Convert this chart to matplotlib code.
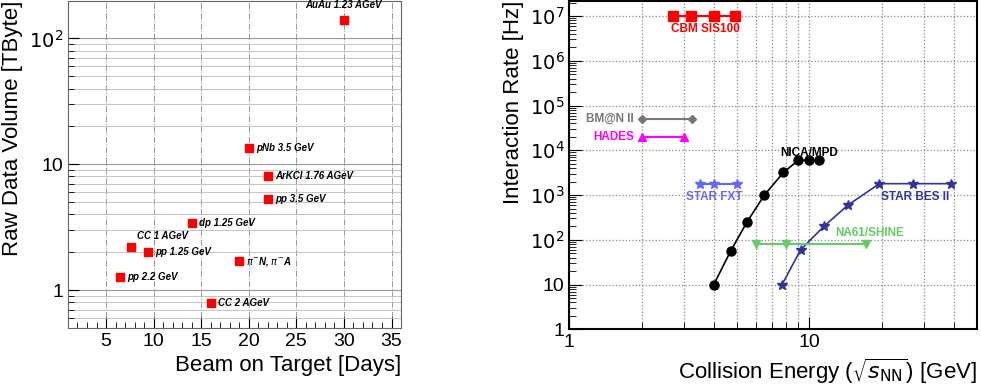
import numpy as np
import matplotlib.pyplot as plt
from matplotlib.ticker import LogLocator, FixedLocator, NullFormatter, MultipleLocator

plt.rcParams['font.family'] = ['Liberation Sans', 'DejaVu Sans']

# left panel: raw data volume vs beam time
runs = ['AuAu 1.23 AGeV', 'pNb 3.5 GeV', 'ArKCl 1.76 AGeV', 'pp 3.5 GeV', 'dp 1.25 GeV',
        'CC 1 AGeV', 'pp 1.25 GeV', '$\\pi^{-}$N, $\\pi^{-}$A', 'pp 2.2 GeV', 'CC 2 AGeV']
days = [30, 20, 22, 22, 14, 7.6, 9.4, 19, 6.5, 16]
volume = [140, 13.4, 8.0, 5.3, 3.4, 2.2, 2.0, 1.7, 1.28, 0.79]

# right panel: interaction rate vs collision energy
cbm_e = [2.7, 3.2, 4.0, 4.9]
cbm_r = [1e7, 1e7, 1e7, 1e7]
bmn_e = [2.0, 3.25]
bmn_r = [5e4, 5e4]
hades_e = [2.0, 3.0]
hades_r = [2e4, 2e4]
fxt_e = [3.5, 4.0, 5.0]
fxt_r = [1.8e3, 1.8e3, 1.8e3]
nica_e = [4.0, 4.7, 5.5, 6.5, 7.8, 9.0, 10.0, 11.0]
nica_r = [10, 56, 250, 1000, 3200, 6000, 6000, 6000]
bes_e = [7.7, 9.2, 11.5, 14.5, 19.6, 27, 39]
bes_r = [10, 60, 200, 600, 1800, 1800, 1800]
na61_e = [6.0, 8.0, 17.3]
na61_r = [80, 80, 80]

fig = plt.figure(figsize=(9.81, 3.87), dpi=100)

# ---- left ----
ax1 = fig.add_axes([0.0693, 0.1525, 0.3395, 0.846])
ax1.set_yscale('log')
ax1.set_xlim(1, 36)
ax1.set_ylim(0.5, 200)
ax1.scatter(days, volume, marker='s', s=30, color='red', zorder=3)
for name, d, v in zip(runs, days, volume):
    if name.startswith('CC 1'):
        ax1.text(d + 0.7, v * 1.12, name, fontsize=7, fontweight='bold', style='italic', va='bottom')
    elif name.startswith('AuAu'):
        ax1.text(d, v * 1.2, name, fontsize=7, fontweight='bold', style='italic', va='bottom', ha='center')
    else:
        ax1.text(d + 0.75, v, name, fontsize=7, fontweight='bold', style='italic', va='center')
ax1.xaxis.set_major_locator(FixedLocator([5, 10, 15, 20, 25, 30, 35]))
ax1.xaxis.set_minor_locator(MultipleLocator(1))
ax1.yaxis.set_major_locator(FixedLocator([1, 10, 100]))
ax1.set_yticklabels(['1', '10', '$10^2$'])
ax1.yaxis.set_minor_locator(LogLocator(base=10, subs=np.arange(2, 10)))
ax1.yaxis.set_minor_formatter(NullFormatter())
ax1.grid(True, which='major', axis='x', color='#999999', linestyle='-.', linewidth=0.7)
ax1.grid(True, which='major', axis='y', color='#999999', linestyle='-', linewidth=0.8)
ax1.grid(True, which='minor', axis='y', color='#bbbbbb', linestyle='-', linewidth=0.6)
ax1.tick_params(which='both', direction='in', labelsize=14, top=False, right=False)
ax1.tick_params(which='major', length=8)
ax1.tick_params(which='minor', length=4)
ax1.set_xlabel('Beam on Target [Days]', fontsize=16, loc='right')
ax1.set_ylabel('Raw Data Volume [TByte]', fontsize=16, loc='top')
for s in ax1.spines.values():
    s.set_color('#666666')

# ---- right ----
ax2 = fig.add_axes([0.5803, 0.149, 0.4157, 0.849])
ax2.set_xscale('log')
ax2.set_yscale('log')
ax2.set_xlim(1, 50)
ax2.set_ylim(1, 2.2e7)

ax2.plot(cbm_e, cbm_r, '-s', color='red', ms=6.5, lw=1.5)
ax2.plot(bmn_e, bmn_r, '-D', color='#777777', ms=4, lw=1.5)
ax2.plot(hades_e, hades_r, '-^', color='magenta', ms=6, lw=1.5)
ax2.plot(fxt_e, fxt_r, '-*', color='#6666ff', ms=7.5, lw=1.5)
ax2.plot(nica_e, nica_r, '-o', color='black', ms=6.5, lw=1.2)
ax2.plot(bes_e, bes_r, '-*', color='#333399', ms=7.5, lw=1.2)
ax2.plot(na61_e, na61_r, '-v', color='#66cc66', ms=6, lw=1.5)

lab = dict(fontsize=8.5, fontweight='bold')
ax2.text(3.7, 5.2e6, 'CBM SIS100', color='red', ha='center', va='center', **lab)
ax2.text(1.86, 5e4, 'BM@N II', color='#777777', ha='right', va='center', **lab)
ax2.text(1.86, 2e4, 'HADES', color='magenta', ha='right', va='center', **lab)
ax2.text(4.0, 9.0e2, 'STAR FXT', color='#6666ff', ha='center', va='center', **lab)
ax2.text(10.0, 8.8e3, 'NICA/MPD', color='black', ha='center', va='center', **lab)
ax2.text(27.5, 9.0e2, 'STAR BES II', color='#333399', ha='center', va='center', **lab)
ax2.text(17.8, 140, 'NA61/SHINE', color='#66cc66', ha='center', va='center', **lab)

ax2.yaxis.set_minor_locator(LogLocator(base=10, subs=np.arange(2, 10), numticks=10))
ax2.yaxis.set_minor_formatter(NullFormatter())
ax2.xaxis.set_major_locator(FixedLocator([1, 10]))
ax2.set_xticklabels(['1', '10'])
ax2.xaxis.set_minor_locator(LogLocator(base=10, subs=np.arange(2, 10), numticks=10))
ax2.xaxis.set_minor_formatter(NullFormatter())
ax2.set_yticks([1, 10, 1e2, 1e3, 1e4, 1e5, 1e6, 1e7])
ax2.set_yticklabels(['1', '10', '$10^2$', '$10^3$', '$10^4$', '$10^5$', '$10^6$', '$10^7$'])
ax2.grid(True, which='major', axis='y', color='#888888', linestyle=':', linewidth=0.9)
ax2.grid(True, which='both', axis='x', color='#888888', linestyle=':', linewidth=0.9)
ax2.tick_params(which='both', direction='in', labelsize=14, top=False, right=False)
ax2.tick_params(which='major', length=9)
ax2.tick_params(which='minor', length=5)
ax2.set_xlabel('Collision Energy ($\\sqrt{s_{\\rm NN}}$) [GeV]', fontsize=16, loc='right')
ax2.set_ylabel('Interaction Rate [Hz]', fontsize=16, loc='top')
for s in ax2.spines.values():
    s.set_linewidth(1.5)

fig.savefig('out.png', dpi=100)
